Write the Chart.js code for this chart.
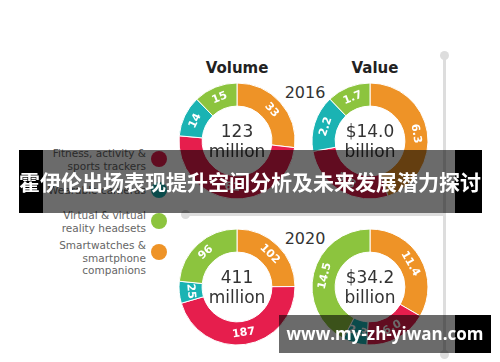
<!DOCTYPE html>
<html lang="en">
<head>
    <meta charset="UTF-8">
    <title>Wearables volume and value</title>
    <script src="https://cdn.jsdelivr.net/npm/chart.js"></script>
    <style>
        body { margin: 0; width: 500px; height: 362px; background: #fff; position: relative; overflow: hidden; font-family: "DejaVu Sans", sans-serif; }
        .abs { position: absolute; }
        .title { font-weight: bold; font-size: 15px; color: #222; transform: translate(-50%, -50%); white-space: nowrap; }
        .year { font-size: 16px; color: #333; transform: translate(-50%, -50%); }
        .legend-item { position: absolute; right: 354px; text-align: right; font-size: 10.5px; line-height: 12.5px; color: #666; transform: translateY(-50%); white-space: nowrap; }
        .dot { position: absolute; width: 16px; height: 16px; border-radius: 50%; transform: translate(-50%, -50%); }
        canvas { position: absolute; }
    </style>
</head>
<body>

<!-- grey guide lines -->
<div class="abs" style="left:443px; top:55px; width:3px; height:300px; background:#ddd;"></div>
<div class="abs" style="left:440px; top:51px; width:9px; height:9px; border-radius:50%; background:#ddd;"></div>
<div class="abs" style="left:440px; top:350px; width:9px; height:9px; border-radius:50%; background:#ddd;"></div>
<div class="abs" style="left:185px; top:213px; width:259px; height:3px; background:#ddd;"></div>
<div class="abs" style="left:181px; top:210px; width:9px; height:9px; border-radius:50%; background:#ddd;"></div>

<div class="abs title" style="left:237px; top:68px;">Volume</div>
<div class="abs title" style="left:375px; top:68px;">Value</div>
<div class="abs year" style="left:305px; top:92px;">2016</div>
<div class="abs year" style="left:305px; top:238px;">2020</div>

<div id="legend"></div>

<canvas id="vol2016" width="124" height="124" style="left:175px; top:79px;"></canvas>
<canvas id="val2016" width="124" height="124" style="left:308px; top:79px;"></canvas>
<canvas id="vol2020" width="124" height="124" style="left:175px; top:225px;"></canvas>
<canvas id="val2020" width="124" height="124" style="left:308px; top:225px;"></canvas>

<!-- title banner: black edges, see-through middle -->
<div class="abs" style="left:19px; top:150px; width:24px; height:63px; background:#000;"></div>
<div class="abs" style="left:455px; top:150px; width:27px; height:63px; background:#000;"></div>
<div class="abs" style="left:43px; top:150px; width:412px; height:63px; background:rgba(0,0,0,0.58);"></div>
<div class="abs" style="left:0; top:150px; width:500px; height:63px; line-height:63px; text-align:center; color:#fff; font-weight:bold; font-size:21px; font-family:'Noto Sans CJK SC', sans-serif; white-space:nowrap;">霍伊伦出场表现提升空间分析及未来发展潜力探讨</div>

<!-- watermark -->
<div class="abs" style="left:455px; top:315px; width:36px; height:38px; background:#000;"></div>
<div class="abs" style="left:279px; top:315px; width:176px; height:38px; background:rgba(0,0,0,0.58);"></div>
<div class="abs" style="left:279px; top:315px; width:212px; height:38px; line-height:38px; text-align:center; color:#fff; font-weight:bold; font-size:17px; font-family:'Open Sans', sans-serif; white-space:nowrap;">www.my-zh-yiwan.com</div>

<script>
// segments in clockwise order from the top
const categories = ['Smartwatches & smartphone companions', 'Fitness, activity & sports trackers', 'Wearable cameras', 'Virtual & virtual reality headsets'];
const colors = ['#ee9327', '#e61e4d', '#1ab3b3', '#8cc43e'];

const volume2016 = [33, 61, 14, 15];
const value2016 = [6.3, 3.8, 2.2, 1.7];
const volume2020 = [102, 187, 25, 96];
const value2020 = [11.4, 6.0, 2.3, 14.5];

const totals = ['123', '$14.0', '411', '$34.2'];
const units = ['million', 'billion', 'million', 'billion'];

// legend, top to bottom
const legendLines = [
    ['Fitness, activity &', 'sports trackers'],
    ['Wearable cameras'],
    ['Virtual & virtual', 'reality headsets'],
    ['Smartwatches &', 'smartphone', 'companions']
];
const legendColors = ['#e61e4d', '#1ab3b3', '#8cc43e', '#ee9327'];
const dotY = [159, 190, 221, 252];
const textY = [159, 190, 221, 258];

const legend = document.getElementById('legend');
legendLines.forEach((lines, i) => {
    const item = document.createElement('div');
    item.className = 'legend-item';
    item.style.top = textY[i] + 'px';
    item.innerHTML = lines.join('<br>').replace(/&(?!amp)/g, '&amp;');
    legend.appendChild(item);
    const dot = document.createElement('div');
    dot.className = 'dot';
    dot.style.left = '159px';
    dot.style.top = dotY[i] + 'px';
    dot.style.background = legendColors[i];
    legend.appendChild(dot);
});

// draws the value on each arc and the total in the middle
const ringText = {
    id: 'ringText',
    afterDatasetsDraw(chart, args, opts) {
        const ctx = chart.ctx;
        const meta = chart.getDatasetMeta(0);
        const values = chart.data.datasets[0].data;
        ctx.save();
        ctx.textAlign = 'center';
        ctx.textBaseline = 'middle';
        ctx.fillStyle = '#fff';
        ctx.font = 'bold 11px "DejaVu Sans"';
        let cx = 0, cy = 0;
        meta.data.forEach((arc, i) => {
            const p = arc.getProps(['x', 'y', 'startAngle', 'endAngle', 'innerRadius', 'outerRadius'], true);
            cx = p.x; cy = p.y;
            const mid = (p.startAngle + p.endAngle) / 2;
            const r = (p.innerRadius + p.outerRadius) / 2;
            let rot = mid + Math.PI / 2;
            if (rot > Math.PI / 2 && rot < Math.PI * 1.5) rot -= Math.PI;
            ctx.save();
            ctx.translate(p.x + Math.cos(mid) * r, p.y + Math.sin(mid) * r);
            ctx.rotate(rot);
            ctx.fillText(values[i].toFixed(opts.decimals), 0, 0);
            ctx.restore();
        });
        ctx.fillStyle = '#333';
        ctx.font = '17px "DejaVu Sans"';
        ctx.fillText(opts.total, cx, cy - 8);
        ctx.fillText(opts.unit, cx, cy + 12);
        ctx.restore();
    }
};

function createRing(canvasId, data, idx, decimals) {
    const ctx = document.getElementById(canvasId).getContext('2d');
    new Chart(ctx, {
        type: 'doughnut',
        data: {
            labels: categories,
            datasets: [{
                data: data,
                backgroundColor: colors,
                borderColor: '#fff',
                borderWidth: 1
            }]
        },
        options: {
            responsive: false,
            animation: false,
            radius: 58,
            cutout: 37,
            plugins: {
                legend: { display: false },
                tooltip: { enabled: false },
                ringText: { total: totals[idx], unit: units[idx], decimals: decimals }
            }
        },
        plugins: [ringText]
    });
}

createRing('vol2016', volume2016, 0, 0);
createRing('val2016', value2016, 1, 1);
createRing('vol2020', volume2020, 2, 0);
createRing('val2020', value2020, 3, 1);
</script>
</body>
</html>
